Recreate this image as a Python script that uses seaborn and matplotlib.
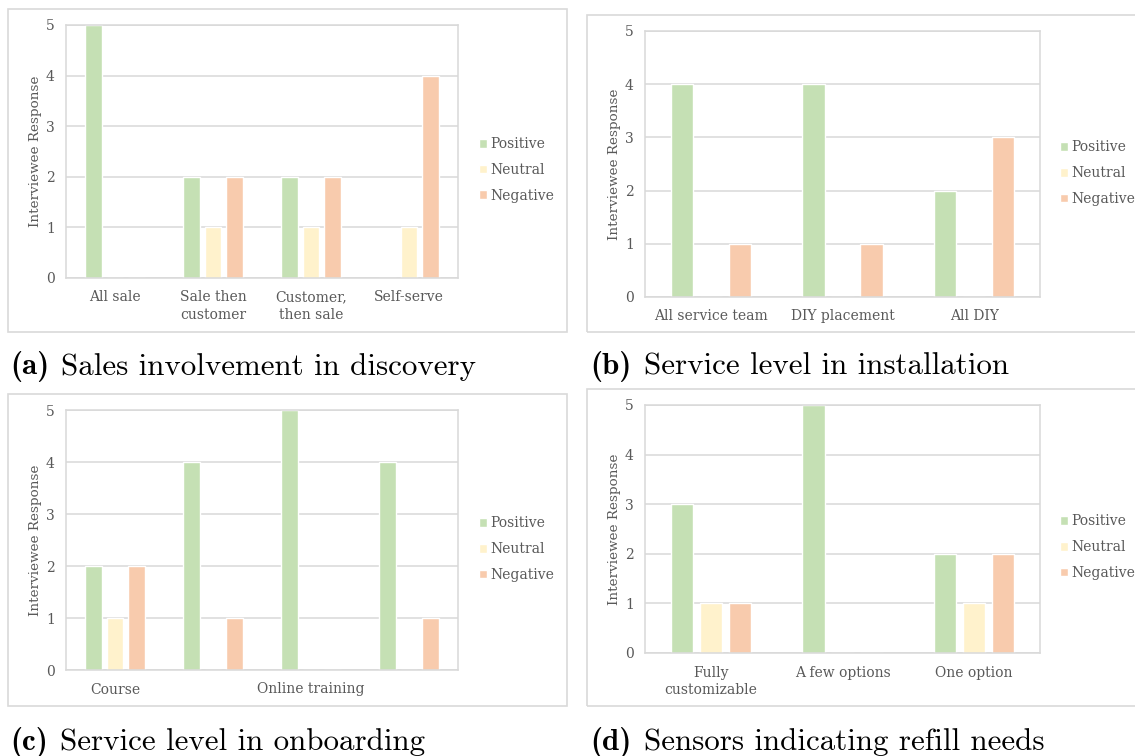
import numpy as np
import pandas as pd
import matplotlib
matplotlib.use("Agg")
import matplotlib.pyplot as plt
import seaborn as sns
from matplotlib.patches import Rectangle

# ---- data -------------------------------------------------------------
sentiments = ["Positive", "Neutral", "Negative"]
palette = ["#C5E0B4", "#FFF2CC", "#F8CBAD"]

discovery_categories = ["All sale", "Sale then\ncustomer", "Customer,\nthen sale", "Self-serve"]
discovery_positive = [5, 2, 2, 0]
discovery_neutral = [0, 1, 1, 1]
discovery_negative = [0, 2, 2, 4]

installation_categories = ["All service team", "DIY placement", "All DIY"]
installation_positive = [4, 4, 2]
installation_neutral = [0, 0, 0]
installation_negative = [1, 1, 3]

onboarding_categories = ["Course", "Online training 1", "Online training 2", "Online training 3"]
onboarding_tick_labels = ["Course", "", "Online training", ""]
onboarding_positive = [2, 4, 5, 4]
onboarding_neutral = [1, 0, 0, 0]
onboarding_negative = [2, 1, 0, 1]

sensor_categories = ["Fully\ncustomizable", "A few options", "One option"]
sensor_positive = [3, 5, 2]
sensor_neutral = [1, 0, 1]
sensor_negative = [1, 0, 2]

caption_tags = ["(a)", "(b)", "(c)", "(d)"]
caption_texts = [
    "Sales involvement in discovery",
    "Service level in installation",
    "Service level in onboarding",
    "Sensors indicating refill needs",
]

# ---- style ------------------------------------------------------------
sns.set_theme(style="white")
plt.rcParams["font.family"] = ["DejaVu Serif"]

TEXT = "#595959"
GRID = "#D9D9D9"

W, H = 1135, 756
fig = plt.figure(figsize=(W / 100, H / 100), dpi=100)
fig.patch.set_facecolor("white")
renderer = fig.canvas.get_renderer()


def px_axes(left, top, right, bottom):
    return fig.add_axes([left / W, 1 - bottom / H, (right - left) / W, (bottom - top) / H])


def frame(left, top, right, bottom):
    fig.add_artist(Rectangle((left / W, 1 - bottom / H), (right - left) / W, (bottom - top) / H,
                             transform=fig.transFigure, fill=False, edgecolor=GRID, lw=1.2))


def long_table(categories, pos, neu, neg):
    rows = []
    for sentiment, vals in zip(sentiments, [pos, neu, neg]):
        for c, v in zip(categories, vals):
            rows.append({"category": c, "sentiment": sentiment, "value": v})
    return pd.DataFrame(rows)


def caption(x, y, tag, text, size=22.3):
    t = fig.text(x / W, 1 - y / H, tag, fontfamily="cmb10", fontsize=size,
                 va="center", ha="left", color="black")
    ext = t.get_window_extent(renderer)
    gap = size * 0.55
    fig.text((ext.x1 + gap) / W, 1 - y / H, text, fontfamily="cmr10", fontsize=size,
             va="center", ha="left", color="black")


panels = [
    dict(box=(66, 25, 458, 278), frame=(8, 9, 567, 332), legend=(1.021, 0.427),
         cats=discovery_categories, ticks=discovery_categories,
         vals=(discovery_positive, discovery_neutral, discovery_negative),
         caption=(10, 367)),
    dict(box=(645, 31, 1040, 297), frame=(587, 15, 1145, 332), legend=(1.018, 0.466),
         cats=installation_categories, ticks=installation_categories,
         vals=(installation_positive, installation_neutral, installation_negative),
         caption=(590, 367)),
    dict(box=(66, 410, 458, 670), frame=(8, 394, 567, 706), legend=(1.021, 0.465),
         cats=onboarding_categories, ticks=onboarding_tick_labels,
         vals=(onboarding_positive, onboarding_neutral, onboarding_negative),
         caption=(10, 742)),
    dict(box=(645, 405, 1040, 653), frame=(587, 389, 1145, 706), legend=(1.018, 0.427),
         cats=sensor_categories, ticks=sensor_categories,
         vals=(sensor_positive, sensor_neutral, sensor_negative),
         caption=(590, 742)),
]

for p, tag, text in zip(panels, caption_tags, caption_texts):
    frame(*p["frame"])
    ax = px_axes(*p["box"])
    df = long_table(p["cats"], *p["vals"])
    sns.barplot(data=df, x="category", y="value", hue="sentiment",
                order=p["cats"], hue_order=sentiments, palette=palette,
                saturation=1, width=0.66, gap=0.22, ax=ax)

    n = len(p["cats"])
    ax.set_xlim(-0.5, n - 0.5)
    ax.set_ylim(0, 5)
    ax.set_yticks(range(6))
    ax.set_xticks(range(n))
    ax.set_xticklabels(p["ticks"], linespacing=1.3)
    ax.grid(axis="y", color=GRID, lw=1.1)
    ax.grid(axis="x", visible=False)
    ax.set_axisbelow(True)
    for s in ax.spines.values():
        s.set_color(GRID)
        s.set_linewidth(1.1)
        s.set_visible(True)
    ax.tick_params(axis="both", length=0, colors=TEXT, labelsize=10)
    ax.tick_params(axis="y", pad=8)
    ax.tick_params(axis="x", pad=9)
    ax.set_xlabel("")
    ax.set_ylabel("Interviewee Response", fontsize=9.7, color=TEXT, labelpad=3)

    sns.move_legend(ax, "center left", bbox_to_anchor=p["legend"], frameon=False,
                    title=None, handlelength=0.6, handleheight=0.6, handletextpad=0.25,
                    labelspacing=0.85, fontsize=10, labelcolor=TEXT)

    caption(*p["caption"], tag, text)

fig.savefig("out.png", dpi=100, facecolor="white")
